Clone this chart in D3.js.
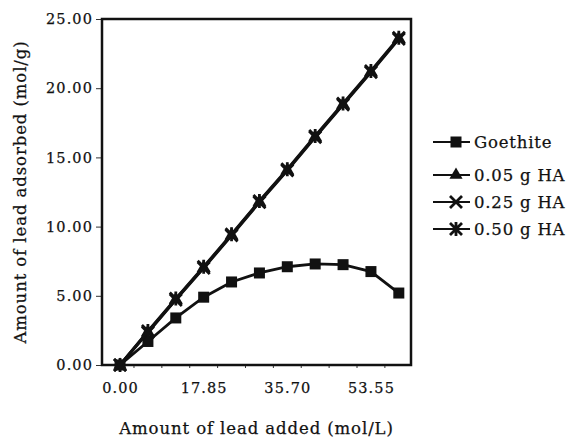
<!DOCTYPE html>
<html>
<head>
<meta charset="utf-8">
<script src="https://cdn.jsdelivr.net/npm/d3@7"></script>
<style>
  body { margin: 0; background: #fff; }
  svg text { font-family: "DejaVu Serif", serif; fill: #111; stroke: #111; stroke-width: 0.25px; }
</style>
</head>
<body>
<div id="chart"></div>
<script>
// data
const leadAdded = [0, 5.95, 11.9, 17.85, 23.8, 29.75, 35.7, 41.65, 47.6, 53.55, 59.5];
const goethite = [0, 1.7, 3.4, 4.9, 6.0, 6.65, 7.1, 7.3, 7.25, 6.75, 5.2];
const ha005 = [0, 2.4, 4.75, 7.05, 9.4, 11.8, 14.1, 16.5, 18.85, 21.2, 23.6];
const ha025 = [0, 2.35, 4.7, 7.0, 9.35, 11.75, 14.05, 16.45, 18.8, 21.15, 23.55];
const ha050 = [0, 2.45, 4.8, 7.1, 9.45, 11.85, 14.15, 16.55, 18.9, 21.25, 23.65];
const seriesNames = ["Goethite", "0.05 g HA", "0.25 g HA", "0.50 g HA"];
const xTickLabels = ["0.00", "17.85", "35.70", "53.55"];
const yTicks = [0, 5, 10, 15, 20, 25];

const width = 569, height = 439;
const plotL = 102, plotR = 411, plotT = 19, plotB = 365;

const svg = d3.select("#chart").append("svg")
    .attr("width", width)
    .attr("height", height);

const x = d3.scaleLinear().domain([-3.85, 62.1]).range([plotL, plotR]);
const y = d3.scaleLinear().domain([0, 25]).range([plotB, plotT]);

// y axis
const yAxis = d3.axisLeft(y).tickValues(yTicks).tickFormat(d3.format(".2f")).tickSize(6).tickPadding(3);
const gy = svg.append("g").attr("transform", `translate(${plotL},0)`).call(yAxis);
gy.select(".domain").remove();
gy.selectAll("line").attr("stroke", "#333");
gy.selectAll("text").style("font-size", "14.5px").style("letter-spacing", "1.1px");

// x axis: labels at every third point, small ticks between the points
const xAxis = d3.axisBottom(x)
    .tickValues(xTickLabels.map(Number))
    .tickFormat((d, i) => xTickLabels[i])
    .tickSize(0).tickPadding(18);
const gx = svg.append("g").attr("transform", `translate(0,${plotB})`).call(xAxis);
gx.select(".domain").remove();
gx.selectAll("text").style("font-size", "14.5px").style("letter-spacing", "1.1px");

const mids = d3.pairs(leadAdded).map(p => (p[0] + p[1]) / 2);
svg.append("g").selectAll("line").data(mids).join("line")
    .attr("x1", d => x(d)).attr("x2", d => x(d))
    .attr("y1", plotB).attr("y2", plotB + 3)
    .attr("stroke", "#333").attr("stroke-width", 1);

// frame
svg.append("rect")
    .attr("x", plotL).attr("y", plotT)
    .attr("width", plotR - plotL).attr("height", plotB - plotT)
    .attr("fill", "none").attr("stroke", "#111").attr("stroke-width", 2.5);

// axis titles
svg.append("text")
    .attr("x", (plotL + plotR) / 2).attr("y", 434)
    .attr("text-anchor", "middle")
    .style("font-size", "16.5px").style("letter-spacing", "0.9px")
    .text("Amount of lead added (mol/L)");

svg.append("text")
    .attr("transform", `translate(26,${(plotT + plotB) / 2}) rotate(-90)`)
    .attr("text-anchor", "middle")
    .style("font-size", "16.5px").style("letter-spacing", "0.9px")
    .text("Amount of lead adsorbed (mol/g)");

// markers
function marker(g, type, cx, cy) {
    if (type === "square") {
        g.append("rect").attr("x", cx - 5.5).attr("y", cy - 5.5).attr("width", 11).attr("height", 11).attr("fill", "#111");
    } else if (type === "triangle") {
        g.append("path").attr("d", d3.symbol(d3.symbolTriangle, 75)()).attr("transform", `translate(${cx},${cy})`).attr("fill", "#111");
    } else if (type === "cross") {
        g.append("path").attr("d", `M${cx - 6},${cy - 6}L${cx + 6},${cy + 6}M${cx - 6},${cy + 6}L${cx + 6},${cy - 6}`)
            .attr("stroke", "#111").attr("stroke-width", 2.8);
    } else {
        g.append("path").attr("d", `M${cx - 6},${cy - 6}L${cx + 6},${cy + 6}M${cx - 6},${cy + 6}L${cx + 6},${cy - 6}M${cx},${cy - 7}L${cx},${cy + 7}`)
            .attr("stroke", "#111").attr("stroke-width", 2.8);
    }
}

const series = [
    { name: seriesNames[0], values: goethite, type: "square" },
    { name: seriesNames[1], values: ha005, type: "triangle" },
    { name: seriesNames[2], values: ha025, type: "cross" },
    { name: seriesNames[3], values: ha050, type: "star" }
];

const line = d3.line().x(d => x(d[0])).y(d => y(d[1]));

series.forEach(s => {
    const pts = d3.zip(leadAdded, s.values);
    svg.append("path").datum(pts)
        .attr("d", line)
        .attr("fill", "none").attr("stroke", "#111").attr("stroke-width", 2.8);
    const g = svg.append("g");
    pts.forEach(p => marker(g, s.type, x(p[0]), y(p[1])));
});

// legend
const legendY = [142, 175, 202, 229];
series.forEach((s, i) => {
    const g = svg.append("g");
    g.append("line").attr("x1", 433).attr("x2", 470)
        .attr("y1", legendY[i]).attr("y2", legendY[i])
        .attr("stroke", "#111").attr("stroke-width", 2);
    marker(g, s.type, 456, legendY[i]);
    g.append("text").attr("x", 474).attr("y", legendY[i]).attr("dy", "0.35em")
        .style("font-size", "16.5px").style("letter-spacing", "0.8px")
        .text(s.name);
});
</script>
</body>
</html>
